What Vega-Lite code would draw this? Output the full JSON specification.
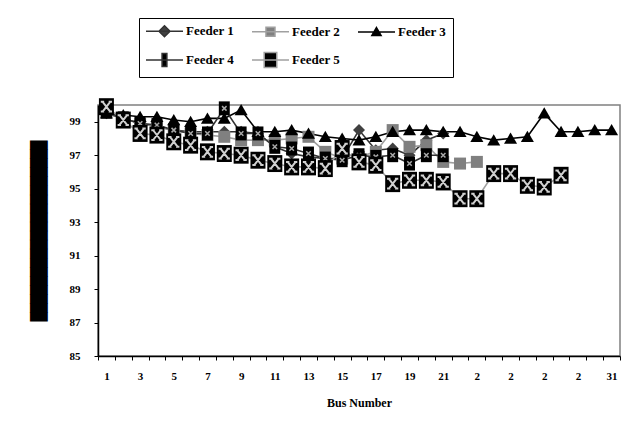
{
  "$schema": "https://vega.github.io/schema/vega-lite/v6.json",
  "width": 522,
  "height": 251,
  "autosize": {"type": "none"},
  "padding": {"left": 98, "top": 105, "right": 5, "bottom": 76},
  "background": "white",
  "config": {"view": {"stroke": "#808080", "strokeWidth": 1.5}, "font": "Liberation Serif"},
  "data": {"values": [
    {"feeder": "Feeder 1", "bus": 1, "v": 99.5}, {"feeder": "Feeder 1", "bus": 2, "v": 99.2}, {"feeder": "Feeder 1", "bus": 3, "v": 98.9}, {"feeder": "Feeder 1", "bus": 4, "v": 98.7}, {"feeder": "Feeder 1", "bus": 5, "v": 98.5}, {"feeder": "Feeder 1", "bus": 6, "v": 98.4}, {"feeder": "Feeder 1", "bus": 7, "v": 98.4}, {"feeder": "Feeder 1", "bus": 8, "v": 98.4}, {"feeder": "Feeder 1", "bus": 9, "v": 98.4}, {"feeder": "Feeder 1", "bus": 10, "v": 98.3}, {"feeder": "Feeder 1", "bus": 11, "v": 97.5}, {"feeder": "Feeder 1", "bus": 12, "v": 97.1}, {"feeder": "Feeder 1", "bus": 13, "v": 96.9}, {"feeder": "Feeder 1", "bus": 14, "v": 96.8}, {"feeder": "Feeder 1", "bus": 15, "v": 96.8}, {"feeder": "Feeder 1", "bus": 16, "v": 98.5}, {"feeder": "Feeder 1", "bus": 17, "v": 97.3}, {"feeder": "Feeder 1", "bus": 18, "v": 97.4}, {"feeder": "Feeder 1", "bus": 19, "v": 97.0}, {"feeder": "Feeder 1", "bus": 20, "v": 97.9}, {"feeder": "Feeder 1", "bus": 21, "v": 98.3},
    {"feeder": "Feeder 2", "bus": 1, "v": 99.6}, {"feeder": "Feeder 2", "bus": 2, "v": 99.2}, {"feeder": "Feeder 2", "bus": 3, "v": 98.9}, {"feeder": "Feeder 2", "bus": 4, "v": 98.7}, {"feeder": "Feeder 2", "bus": 5, "v": 98.5}, {"feeder": "Feeder 2", "bus": 6, "v": 98.3}, {"feeder": "Feeder 2", "bus": 7, "v": 98.2}, {"feeder": "Feeder 2", "bus": 8, "v": 98.1}, {"feeder": "Feeder 2", "bus": 9, "v": 97.9}, {"feeder": "Feeder 2", "bus": 10, "v": 97.9}, {"feeder": "Feeder 2", "bus": 11, "v": 97.9}, {"feeder": "Feeder 2", "bus": 12, "v": 98.0}, {"feeder": "Feeder 2", "bus": 13, "v": 98.1}, {"feeder": "Feeder 2", "bus": 14, "v": 97.2}, {"feeder": "Feeder 2", "bus": 15, "v": 96.8}, {"feeder": "Feeder 2", "bus": 16, "v": 96.9}, {"feeder": "Feeder 2", "bus": 17, "v": 97.2}, {"feeder": "Feeder 2", "bus": 18, "v": 98.5}, {"feeder": "Feeder 2", "bus": 19, "v": 97.5}, {"feeder": "Feeder 2", "bus": 20, "v": 97.6}, {"feeder": "Feeder 2", "bus": 21, "v": 96.6}, {"feeder": "Feeder 2", "bus": 22, "v": 96.5}, {"feeder": "Feeder 2", "bus": 23, "v": 96.6},
    {"feeder": "Feeder 3", "bus": 1, "v": 99.5}, {"feeder": "Feeder 3", "bus": 2, "v": 99.4}, {"feeder": "Feeder 3", "bus": 3, "v": 99.3}, {"feeder": "Feeder 3", "bus": 4, "v": 99.3}, {"feeder": "Feeder 3", "bus": 5, "v": 99.1}, {"feeder": "Feeder 3", "bus": 6, "v": 99.0}, {"feeder": "Feeder 3", "bus": 7, "v": 99.2}, {"feeder": "Feeder 3", "bus": 8, "v": 99.2}, {"feeder": "Feeder 3", "bus": 9, "v": 99.7}, {"feeder": "Feeder 3", "bus": 10, "v": 98.4}, {"feeder": "Feeder 3", "bus": 11, "v": 98.4}, {"feeder": "Feeder 3", "bus": 12, "v": 98.5}, {"feeder": "Feeder 3", "bus": 13, "v": 98.3}, {"feeder": "Feeder 3", "bus": 14, "v": 98.1}, {"feeder": "Feeder 3", "bus": 15, "v": 98.0}, {"feeder": "Feeder 3", "bus": 16, "v": 97.9}, {"feeder": "Feeder 3", "bus": 17, "v": 98.1}, {"feeder": "Feeder 3", "bus": 18, "v": 98.4}, {"feeder": "Feeder 3", "bus": 19, "v": 98.5}, {"feeder": "Feeder 3", "bus": 20, "v": 98.5}, {"feeder": "Feeder 3", "bus": 21, "v": 98.4}, {"feeder": "Feeder 3", "bus": 22, "v": 98.4}, {"feeder": "Feeder 3", "bus": 23, "v": 98.1}, {"feeder": "Feeder 3", "bus": 24, "v": 97.9}, {"feeder": "Feeder 3", "bus": 25, "v": 98.0}, {"feeder": "Feeder 3", "bus": 26, "v": 98.1}, {"feeder": "Feeder 3", "bus": 27, "v": 99.5}, {"feeder": "Feeder 3", "bus": 28, "v": 98.4}, {"feeder": "Feeder 3", "bus": 29, "v": 98.4}, {"feeder": "Feeder 3", "bus": 30, "v": 98.5}, {"feeder": "Feeder 3", "bus": 31, "v": 98.5},
    {"feeder": "Feeder 4", "bus": 1, "v": 99.6}, {"feeder": "Feeder 4", "bus": 2, "v": 99.2}, {"feeder": "Feeder 4", "bus": 3, "v": 98.9}, {"feeder": "Feeder 4", "bus": 4, "v": 98.8}, {"feeder": "Feeder 4", "bus": 5, "v": 98.5}, {"feeder": "Feeder 4", "bus": 6, "v": 98.3}, {"feeder": "Feeder 4", "bus": 7, "v": 98.3}, {"feeder": "Feeder 4", "bus": 8, "v": 99.8}, {"feeder": "Feeder 4", "bus": 9, "v": 98.3}, {"feeder": "Feeder 4", "bus": 10, "v": 98.3}, {"feeder": "Feeder 4", "bus": 11, "v": 97.5}, {"feeder": "Feeder 4", "bus": 12, "v": 97.4}, {"feeder": "Feeder 4", "bus": 13, "v": 97.1}, {"feeder": "Feeder 4", "bus": 14, "v": 96.8}, {"feeder": "Feeder 4", "bus": 15, "v": 96.7}, {"feeder": "Feeder 4", "bus": 16, "v": 97.0}, {"feeder": "Feeder 4", "bus": 17, "v": 96.9}, {"feeder": "Feeder 4", "bus": 18, "v": 97.0}, {"feeder": "Feeder 4", "bus": 19, "v": 96.5}, {"feeder": "Feeder 4", "bus": 20, "v": 97.0}, {"feeder": "Feeder 4", "bus": 21, "v": 97.0},
    {"feeder": "Feeder 5", "bus": 1, "v": 99.9}, {"feeder": "Feeder 5", "bus": 2, "v": 99.1}, {"feeder": "Feeder 5", "bus": 3, "v": 98.3}, {"feeder": "Feeder 5", "bus": 4, "v": 98.2}, {"feeder": "Feeder 5", "bus": 5, "v": 97.8}, {"feeder": "Feeder 5", "bus": 6, "v": 97.6}, {"feeder": "Feeder 5", "bus": 7, "v": 97.2}, {"feeder": "Feeder 5", "bus": 8, "v": 97.1}, {"feeder": "Feeder 5", "bus": 9, "v": 97.0}, {"feeder": "Feeder 5", "bus": 10, "v": 96.7}, {"feeder": "Feeder 5", "bus": 11, "v": 96.5}, {"feeder": "Feeder 5", "bus": 12, "v": 96.3}, {"feeder": "Feeder 5", "bus": 13, "v": 96.3}, {"feeder": "Feeder 5", "bus": 14, "v": 96.2}, {"feeder": "Feeder 5", "bus": 15, "v": 97.4}, {"feeder": "Feeder 5", "bus": 16, "v": 96.6}, {"feeder": "Feeder 5", "bus": 17, "v": 96.4}, {"feeder": "Feeder 5", "bus": 18, "v": 95.3}, {"feeder": "Feeder 5", "bus": 19, "v": 95.5}, {"feeder": "Feeder 5", "bus": 20, "v": 95.5}, {"feeder": "Feeder 5", "bus": 21, "v": 95.4}, {"feeder": "Feeder 5", "bus": 22, "v": 94.4}, {"feeder": "Feeder 5", "bus": 23, "v": 94.4}, {"feeder": "Feeder 5", "bus": 24, "v": 95.9}, {"feeder": "Feeder 5", "bus": 25, "v": 95.9}, {"feeder": "Feeder 5", "bus": 26, "v": 95.2}, {"feeder": "Feeder 5", "bus": 27, "v": 95.1}, {"feeder": "Feeder 5", "bus": 28, "v": 95.8}
  ]},
  "encoding": {
    "x": {"field": "bus", "type": "ordinal", "scale": {"type": "band", "paddingInner": 0, "paddingOuter": 0},
      "axis": {"tickBand": "extent", "labelAngle": 0, "labelOverlap": false,
        "labelExpr": "datum.value % 2 == 1 ? ((datum.value > 21 && datum.value < 31) ? '2\u2002' : datum.label) : ''",
        "title": "Bus Number", "titleFont": "Liberation Serif", "titleFontSize": 12, "titleFontWeight": "bold", "titleColor": "black", "titlePadding": 16,
        "labelFont": "Liberation Serif", "labelFontSize": 11, "labelFontWeight": "bold", "labelColor": "black", "labelPadding": 10,
        "tickSize": 4, "tickColor": "black", "domainColor": "black", "domainWidth": 1.5, "grid": false}},
    "y": {"field": "v", "type": "quantitative", "scale": {"domain": [85, 100], "nice": false, "zero": false},
      "axis": {"values": [85, 87, 89, 91, 93, 95, 97, 99], "grid": false,
        "title": "████████████████████", "titleFont": "DejaVu Sans Mono", "titleFontSize": 15, "titleFontWeight": "normal", "titleColor": "black", "titlePadding": 23,
        "labelFont": "Liberation Serif", "labelFontSize": 11, "labelFontWeight": "bold", "labelColor": "black", "labelPadding": 14,
        "tickSize": 4, "tickColor": "black", "domainColor": "black", "domainWidth": 1.5}}
  },
  "layer": [
    {
      "mark": {"type": "line", "strokeWidth": 1.6},
      "encoding": {
        "color": {"field": "feeder", "type": "nominal",
          "scale": {"domain": ["Feeder 1", "Feeder 2", "Feeder 3", "Feeder 4", "Feeder 5"], "range": ["#333333", "#a0a0a0", "#000000", "#333333", "#a0a0a0"]},
          "legend": {"orient": "none", "legendX": 41, "legendY": -87, "columns": 3, "direction": "horizontal", "title": null,
            "strokeColor": "black", "fillColor": "white", "padding": 6,
            "symbolSize": 144, "symbolStrokeWidth": 1.5,
            "labelFont": "Liberation Serif", "labelFontSize": 13, "labelFontWeight": "bold", "labelColor": "black", "labelOffset": 27,
            "columnPadding": 14, "rowPadding": 9,
            "encode": {"symbols": {"update": {
              "shape": {"signal": "datum.value == 'Feeder 1' ? 'M-1,0H5.17M2.08,-0.92L3,0L2.08,0.92L1.16,0Z' : datum.value == 'Feeder 2' ? 'M-1,0H5.17M1.33,-0.75H2.83V0.75H1.33Z' : datum.value == 'Feeder 3' ? 'M-1,0H5.17M2.08,-0.75L2.85,0.6H1.31Z' : datum.value == 'Feeder 4' ? 'M-1,0H5.17M1.68,-1.08H2.48V1.08H1.68Z' : 'M-1,0H5.17M1.03,-1.25H3.13V1.25H1.03Z'"},
              "fill": {"signal": "datum.value == 'Feeder 1' ? '#404040' : datum.value == 'Feeder 2' ? '#808080' : '#000000'"},
              "size": {"value": 144},
              "strokeWidth": {"value": 1.5},
              "opacity": {"value": 1}
            }}}
          }
        }
      }
    },
    {
      "transform": [{"filter": "datum.feeder == 'Feeder 1'"}],
      "mark": {"type": "point", "filled": true, "size": 225, "strokeWidth": 0, "opacity": 1, "fill": "#404040", "shape": "M0,-0.8L0.8,0L0,0.8L-0.8,0Z"}
    },
    {
      "transform": [{"filter": "datum.feeder == 'Feeder 2'"}],
      "mark": {"type": "point", "filled": true, "size": 225, "strokeWidth": 0, "opacity": 1, "fill": "#808080", "shape": "M-0.8,-0.8H0.8V0.8H-0.8Z"}
    },
    {
      "transform": [{"filter": "datum.feeder == 'Feeder 3'"}],
      "mark": {"type": "point", "filled": true, "size": 225, "strokeWidth": 0, "opacity": 1, "fill": "#000000", "shape": "M0,-0.8L0.87,0.7H-0.87Z"}
    },
    {
      "transform": [{"filter": "datum.feeder == 'Feeder 4'"}],
      "mark": {"type": "point", "filled": true, "size": 225, "strokeWidth": 0, "opacity": 1, "fill": "#000000", "shape": "M-0.73,-0.93H0.73V0.93H-0.73Z"}
    },
    {
      "transform": [{"filter": "datum.feeder == 'Feeder 4'"}],
      "mark": {"type": "point", "filled": false, "size": 225, "strokeWidth": 1.5, "stroke": "#a8a8a8", "opacity": 1, "shape": "M-0.3,-0.3L0.3,0.3M0.3,-0.3L-0.3,0.3"}
    },
    {
      "transform": [{"filter": "datum.feeder == 'Feeder 5'"}],
      "mark": {"type": "point", "filled": true, "size": 225, "strokeWidth": 0, "opacity": 1, "fill": "#000000", "shape": "M-1,-1.13H1V1.13H-1Z"}
    },
    {
      "transform": [{"filter": "datum.feeder == 'Feeder 5'"}],
      "mark": {"type": "point", "filled": false, "size": 225, "strokeWidth": 2, "stroke": "#d0d0d0", "opacity": 1, "shape": "M-0.5,-0.65L0.5,0.65M0.5,-0.65L-0.5,0.65M-0.75,-0.65H-0.3M0.3,-0.65H0.75M-0.75,0.65H-0.3M0.3,0.65H0.75"}
    }
  ]
}
